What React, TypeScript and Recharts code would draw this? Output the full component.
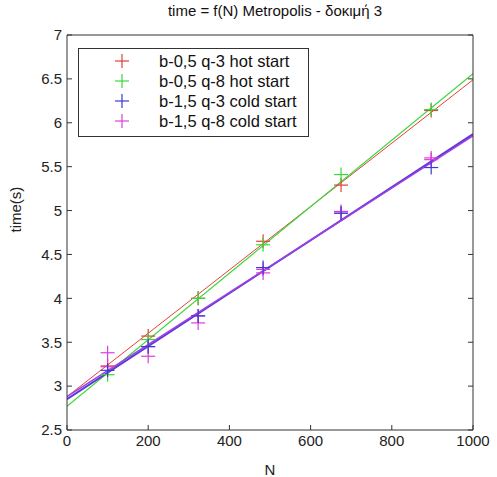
import React from "react";
import { ComposedChart, Scatter, Line, XAxis, YAxis } from "recharts";

// N values of the measurements
const nValues = [100, 200, 323, 483, 675, 897];

// measured times (s)
const redTimes = [3.23, 3.57, 4.0, 4.65, 5.29, 6.14];
const greenTimes = [3.13, 3.53, 4.0, 4.61, 5.41, 6.15];
const blueTimes = [3.18, 3.45, 3.8, 4.35, 4.97, 5.49];
const magentaTimes = [3.38, 3.34, 3.72, 4.29, 4.99, 5.58];
const magentaExtra = [3.22, 3.45, 3.8, 4.33, 4.97, 5.6];

// fitted lines, read at N = 0 and N = 1000
const fitN = [0, 1000];
const redFit = [2.88, 6.49];
const greenFit = [2.77, 6.56];
const blueFit = [2.85, 5.87];
const magentaFit = [2.88, 5.85];

const xTicks = [0, 200, 400, 600, 800, 1000];
const yTicks = [2.5, 3, 3.5, 4, 4.5, 5, 5.5, 6, 6.5, 7];

const seriesNames = [
  "b-0,5 q-3 hot start",
  "b-0,5 q-8 hot start",
  "b-1,5 q-3 cold start",
  "b-1,5 q-8 cold start",
];
const colors = ["#e0403a", "#3ad83a", "#3a3ad0", "#dd3ddd"];

const font = "'Liberation Sans', Arial, sans-serif";

const toPoints = (ys: number[], xs = nValues) => xs.map((n, i) => ({ n, t: ys[i] }));

const Plus = (color: string) => (props: any) => {
  const { cx, cy } = props;
  if (cx == null || cy == null) return <g />;
  return (
    <g stroke={color} strokeWidth={1.2}>
      <line x1={cx - 7} y1={cy} x2={cx + 7} y2={cy} />
      <line x1={cx} y1={cy - 7} x2={cx} y2={cy + 7} />
    </g>
  );
};

const LegendBox = () => (
  <div
    style={{
      position: "absolute",
      left: 78,
      top: 48,
      border: "1px solid #333",
      background: "#fff",
      padding: "2px 0 5px 35px",
      fontFamily: font,
      fontSize: 16.5,
      color: "#111",
      width: 194,
      zIndex: 2,
    }}
  >
    {seriesNames.map((name, i) => (
      <div key={name} style={{ display: "flex", alignItems: "center", height: 20 }}>
        <svg width={16} height={16} style={{ marginRight: 29, flexShrink: 0 }}>
          <line x1={1} y1={8} x2={15} y2={8} stroke={colors[i]} strokeWidth={1.2} />
          <line x1={8} y1={1} x2={8} y2={15} stroke={colors[i]} strokeWidth={1.2} />
        </svg>
        <span style={{ whiteSpace: "nowrap" }}>{name}</span>
      </div>
    ))}
  </div>
);

const tickStyle = { fontSize: 15, fill: "#222", fontFamily: font };
const axisLine = { stroke: "#333" };

export default function App() {
  return (
    <div style={{ position: "absolute", left: 0, top: 0, width: 497, height: 477, background: "#fff" }}>
      <div
        style={{
          position: "absolute",
          top: 2,
          left: 0,
          width: 550,
          textAlign: "center",
          fontFamily: font,
          fontSize: 15,
          color: "#111",
        }}
      >
        time = f(N) Metropolis - δοκιμή 3
      </div>
      <LegendBox />
      <ComposedChart width={497} height={477} margin={{ top: 34, right: 23, left: 0, bottom: 0 }}>
        <XAxis
          xAxisId="b"
          dataKey="n"
          type="number"
          domain={[0, 1000]}
          ticks={xTicks}
          tickSize={-5}
          tickMargin={10}
          tick={tickStyle}
          axisLine={axisLine}
          tickLine={axisLine}
          height={47}
          allowDataOverflow
          label={{ value: "N", position: "insideBottom", offset: 2, style: tickStyle }}
        />
        <XAxis
          xAxisId="t"
          orientation="top"
          type="number"
          domain={[0, 1000]}
          ticks={xTicks}
          tickSize={-5}
          tickFormatter={() => ""}
          axisLine={axisLine}
          tickLine={axisLine}
          height={1}
          allowDataOverflow
        />
        <YAxis
          yAxisId="l"
          type="number"
          domain={[2.5, 7]}
          ticks={yTicks}
          tickSize={-5}
          tickMargin={10}
          tick={tickStyle}
          axisLine={axisLine}
          tickLine={axisLine}
          width={67}
          allowDataOverflow
          label={{ value: "time(s)", angle: -90, position: "insideLeft", offset: 16, style: tickStyle }}
        />
        <YAxis
          yAxisId="r"
          orientation="right"
          type="number"
          domain={[2.5, 7]}
          ticks={yTicks}
          tickSize={-5}
          tickFormatter={() => ""}
          axisLine={axisLine}
          tickLine={axisLine}
          width={1}
          allowDataOverflow
        />
        <Line xAxisId="b" yAxisId="l" data={toPoints(redFit, fitN)} dataKey="t" stroke={colors[0]} strokeWidth={1} dot={false} isAnimationActive={false} />
        <Line xAxisId="b" yAxisId="l" data={toPoints(greenFit, fitN)} dataKey="t" stroke={colors[1]} strokeWidth={1.2} dot={false} isAnimationActive={false} />
        <Line xAxisId="b" yAxisId="l" data={toPoints(blueFit, fitN)} dataKey="t" stroke="#5a3ad8" strokeWidth={2} dot={false} isAnimationActive={false} />
        <Line xAxisId="b" yAxisId="l" data={toPoints(magentaFit, fitN)} dataKey="t" stroke="#a040e0" strokeWidth={1.5} dot={false} isAnimationActive={false} />
        <Scatter xAxisId="b" yAxisId="l" data={toPoints(redTimes)} dataKey="t" shape={Plus(colors[0])} isAnimationActive={false} />
        <Scatter xAxisId="b" yAxisId="l" data={toPoints(greenTimes)} dataKey="t" shape={Plus(colors[1])} isAnimationActive={false} />
        <Scatter xAxisId="b" yAxisId="l" data={toPoints(magentaTimes)} dataKey="t" shape={Plus(colors[3])} isAnimationActive={false} />
        <Scatter xAxisId="b" yAxisId="l" data={toPoints(magentaExtra)} dataKey="t" shape={Plus(colors[3])} isAnimationActive={false} />
        <Scatter xAxisId="b" yAxisId="l" data={toPoints(blueTimes)} dataKey="t" shape={Plus(colors[2])} isAnimationActive={false} />
      </ComposedChart>
    </div>
  );
}
